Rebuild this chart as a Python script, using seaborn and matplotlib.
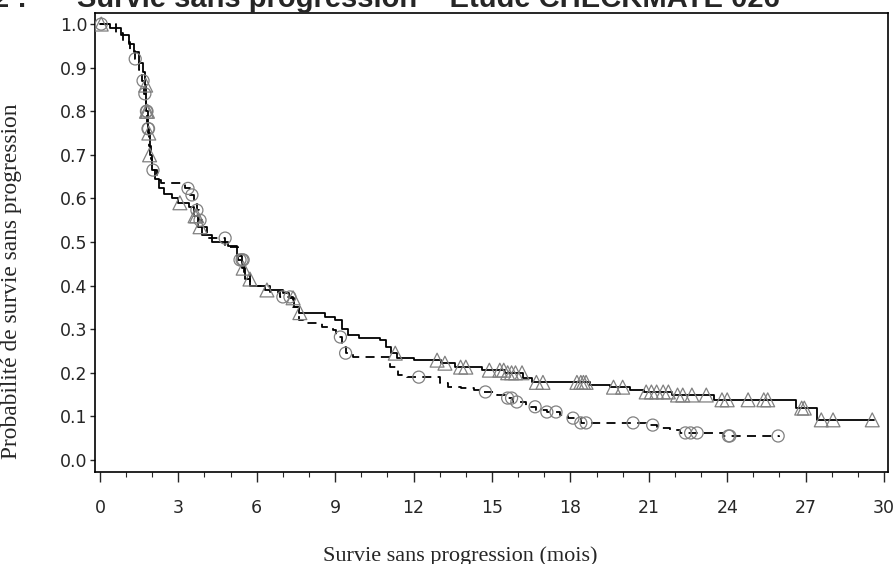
import numpy as np
import pandas as pd
import seaborn as sns
import matplotlib.pyplot as plt
from matplotlib.ticker import MultipleLocator, FormatStrFormatter

sns.set_style("ticks")
plt.rcParams['font.family'] = ['DejaVu Sans']

# Courbe en trait plein (censures = triangles)
solid_t = [0, 0.4, 0.8, 1.1, 1.3, 1.5, 1.65, 1.72, 1.78, 1.84, 1.9, 1.98, 2.1, 2.25,
           2.45, 2.75, 3.0, 3.4, 3.6, 3.75, 3.9, 4.3, 4.9, 5.25, 5.42, 5.55, 5.75,
           6.3, 7.0, 7.25, 7.42, 7.6, 8.6, 9.0, 9.25, 9.5, 9.9, 10.7, 10.95, 11.15,
           11.35, 12.0, 13.05, 13.6, 14.6, 15.5, 16.2, 16.55, 18.75, 19.5, 20.3,
           20.8, 21.9, 23.5, 26.65, 27.45, 29.6]
solid_s = [1.0, 0.99, 0.975, 0.955, 0.935, 0.91, 0.89, 0.86, 0.80, 0.75, 0.70, 0.665,
           0.645, 0.625, 0.61, 0.60, 0.59, 0.58, 0.56, 0.535, 0.515, 0.50, 0.49,
           0.468, 0.44, 0.415, 0.40, 0.39, 0.383, 0.372, 0.352, 0.338, 0.329, 0.322,
           0.30, 0.287, 0.28, 0.275, 0.26, 0.245, 0.235, 0.229, 0.222, 0.213, 0.206,
           0.200, 0.189, 0.178, 0.172, 0.167, 0.160, 0.156, 0.149, 0.138, 0.119,
           0.092, 0.092]
solid_cens = [0.05, 1.75, 1.78, 1.82, 1.87, 1.9, 3.06, 3.64, 3.7, 3.83, 5.48, 5.74,
              6.39, 7.39, 7.65, 11.3, 12.9, 13.2, 13.8, 14.0, 14.9, 15.3, 15.45, 15.6,
              15.75, 15.9, 16.15, 16.7, 16.95, 18.25, 18.4, 18.5, 18.6, 19.65, 20.0,
              20.9, 21.1, 21.3, 21.55, 21.75, 22.1, 22.3, 22.65, 23.2, 23.8, 24.0,
              24.8, 25.4, 25.55, 26.85, 26.95, 27.6, 28.05, 29.55]

# Courbe en pointillés (censures = cercles)
dash_t = [0, 0.6, 0.9, 1.15, 1.35, 1.5, 1.62, 1.7, 1.76, 1.82, 1.88, 1.95, 2.0, 2.2,
          2.35, 3.25, 3.45, 3.6, 3.7, 3.8, 3.9, 4.1, 4.8, 5.3, 5.5, 5.75, 6.5, 6.9,
          7.4, 7.6, 7.8, 8.5, 8.9, 9.05, 9.25, 9.4, 9.7, 11.1, 11.4, 11.75, 13.0,
          13.3, 13.8, 14.3, 14.7, 15.2, 15.5, 15.8, 16.3, 16.7, 17.1, 17.6, 17.9,
          18.4, 20.9, 21.3, 21.8, 22.2, 23.85, 26.0]
dash_s = [1.0, 0.98, 0.96, 0.94, 0.92, 0.895, 0.87, 0.84, 0.80, 0.76, 0.72, 0.69,
          0.665, 0.642, 0.635, 0.623, 0.608, 0.59, 0.573, 0.55, 0.534, 0.509, 0.489,
          0.459, 0.43, 0.40, 0.385, 0.374, 0.351, 0.321, 0.314, 0.305, 0.298, 0.282,
          0.259, 0.245, 0.236, 0.213, 0.195, 0.19, 0.177, 0.167, 0.165, 0.16, 0.156,
          0.149, 0.142, 0.133, 0.122, 0.115, 0.11, 0.103, 0.096, 0.085, 0.08, 0.073,
          0.069, 0.062, 0.055, 0.052]
dash_cens = [0.05, 1.35, 1.65, 1.72, 1.78, 1.8, 1.84, 1.86, 2.03, 3.37, 3.52, 3.71,
             3.83, 4.79, 5.36, 5.44, 5.48, 7.0, 7.27, 9.2, 9.4, 12.2, 14.75, 15.6,
             15.75, 15.95, 16.65, 17.1, 17.45, 18.1, 18.4, 18.6, 20.4, 21.15, 22.4,
             22.6, 22.85, 24.05, 24.1, 25.95]


def km_frame(t, s):
    return pd.DataFrame({"mois": t, "survie": s})


def censor_frame(t, s, c):
    t = np.asarray(t)
    s = np.asarray(s)
    idx = np.searchsorted(t, c, side="right") - 1
    return pd.DataFrame({"mois": c, "survie": s[idx]})


fig = plt.figure(figsize=(8.95, 5.64), dpi=100)
ax = fig.add_axes([0.1061, 0.1636, 0.886, 0.8138])

sns.lineplot(data=km_frame(solid_t, solid_s), x="mois", y="survie", ax=ax,
             drawstyle="steps-post", color="black", lw=1.3, estimator=None, sort=False)
sns.lineplot(data=km_frame(dash_t, dash_s), x="mois", y="survie", ax=ax,
             drawstyle="steps-post", color="black", lw=1.3, estimator=None, sort=False,
             linestyle=(0, (5, 3.5)))

sns.scatterplot(data=censor_frame(solid_t, solid_s, solid_cens), x="mois", y="survie",
                ax=ax, marker="^", s=100, fc="none", ec="#808080", linewidth=0.9, zorder=3)
sns.scatterplot(data=censor_frame(dash_t, dash_s, dash_cens), x="mois", y="survie",
                ax=ax, marker="o", s=75, fc="none", ec="#808080", linewidth=0.9, zorder=3)

ax.set_xlim(-0.19, 30.15)
ax.set_ylim(-0.027, 1.026)
ax.xaxis.set_major_locator(MultipleLocator(3))
ax.xaxis.set_minor_locator(MultipleLocator(1))
ax.yaxis.set_major_locator(MultipleLocator(0.1))
ax.yaxis.set_major_formatter(FormatStrFormatter('%.1f'))
ax.tick_params(axis="x", which="major", length=7.5, width=1, labelsize=12.5, pad=12)
ax.tick_params(axis="x", which="minor", length=3.6, width=0.8)
ax.tick_params(axis="y", length=3.6, width=1, labelsize=12.5, pad=2)
for sp in ax.spines.values():
    sp.set_visible(True)
    sp.set_linewidth(1.2)
    sp.set_color("black")
ax.set_xlabel("")
ax.set_ylabel("")

fig.text(0.514, 0.006, "Survie sans progression (mois)", family="Liberation Serif",
         fontsize=16, ha="center", va="baseline")
fig.text(0.0134, 0.502, "Probabilité de survie sans progression", family="Liberation Serif",
         fontsize=16.8, ha="center", va="center", rotation=90)
fig.text(0.030, 0.9876, "2 :", family="Liberation Sans", fontweight="bold",
         fontsize=21, ha="right", va="baseline")
fig.text(0.086, 0.9876, "Survie sans progression – Étude CHECKMATE 026",
         family="Liberation Sans", fontweight="bold", fontsize=21, ha="left", va="baseline")

fig.savefig("out.png", dpi=100)
